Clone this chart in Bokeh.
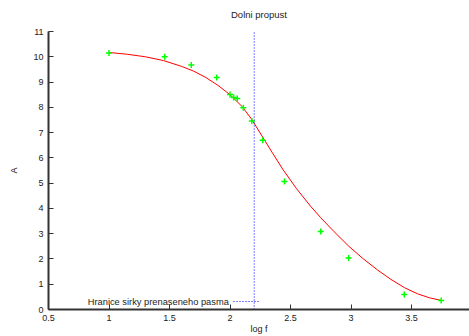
from bokeh.plotting import figure
from bokeh.models import Range1d, FixedTicker, Label, Legend, LegendItem, Title
from bokeh.embed import file_html
from bokeh.resources import INLINE

# measured points (log f, A)
x_pts = [1.00, 1.46, 1.68, 1.89, 2.00, 2.03, 2.06, 2.11, 2.18, 2.27, 2.45, 2.75, 2.98, 3.44, 3.745]
y_pts = [10.15, 10.00, 9.67, 9.18, 8.51, 8.39, 8.35, 7.98, 7.46, 6.70, 5.06, 3.09, 2.04, 0.59, 0.36]

# fitted curve
curve_x = [1.00, 1.15, 1.30, 1.45, 1.60, 1.70, 1.80, 1.90, 2.00, 2.10, 2.18, 2.27, 2.35, 2.44,
           2.55, 2.665, 2.75, 2.86, 2.98, 3.10, 3.217, 3.33, 3.443, 3.55, 3.65, 3.745]
curve_y = [10.17, 10.10, 10.00, 9.85, 9.62, 9.43, 9.18, 8.87, 8.50, 8.03, 7.52, 6.82, 6.20, 5.52,
           4.78, 4.09, 3.63, 3.08, 2.51, 2.01, 1.57, 1.19, 0.86, 0.62, 0.46, 0.36]

# band edge
x_cut = 2.2

x_ticks = [0.5, 1.0, 1.5, 2.0, 2.5, 3.0, 3.5]
x_tick_labels = ["0.5", "1", "1.5", "2", "2.5", "3", "3.5"]
y_ticks = [0, 1, 2, 3, 4, 5, 6, 7, 8, 9, 10, 11]
y_tick_labels = [str(v) for v in y_ticks]

FONT = "Liberation Sans"
TXT = "#222222"

p = figure(width=469, height=336,
           x_range=Range1d(0.5, 3.979), y_range=Range1d(0, 11),
           output_backend="svg", toolbar_location=None,
           min_border_left=48, min_border_right=0,
           min_border_top=31, min_border_bottom=26,
           title="Dolni propust")
p.outline_line_color = None
p.grid.visible = False
p.background_fill_color = "white"
p.border_fill_color = "white"

p.title.text_font = FONT
p.title.text_font_size = "9.5px"
p.title.text_font_style = "normal"
p.title.text_color = TXT
p.title.align = "center"

# empty spacer between the title and the frame
p.add_layout(Title(text=" ", text_font_size="4px", standoff=0), "above")

for ax in (p.xaxis[0], p.yaxis[0]):
    ax.axis_line_color = "#333333"
    ax.axis_line_width = 2
    ax.major_tick_line_color = "#333333"
    ax.major_tick_in = 5
    ax.major_tick_out = 0
    ax.minor_tick_line_color = None
    ax.major_label_text_font = FONT
    ax.major_label_text_font_size = "9px"
    ax.major_label_text_color = TXT
    ax.axis_label_text_font = FONT
    ax.axis_label_text_font_size = "9px"
    ax.axis_label_text_font_style = "normal"
    ax.axis_label_text_color = TXT

p.xaxis.ticker = FixedTicker(ticks=x_ticks)
p.xaxis.major_label_overrides = {t: l for t, l in zip(x_ticks, x_tick_labels)}
p.xaxis.axis_label = "log f"
p.xaxis.major_label_standoff = 5
p.xaxis.axis_label_standoff = 0

p.yaxis.ticker = FixedTicker(ticks=y_ticks)
p.yaxis.major_label_overrides = {t: l for t, l in zip(y_ticks, y_tick_labels)}
p.yaxis.axis_label = "A"
p.yaxis.major_label_standoff = 5
p.yaxis.axis_label_standoff = 11

p.line(curve_x, curve_y, line_color="#ff0000", line_width=1)
p.scatter(x_pts, y_pts, marker="cross", size=6, line_color="#00ff00", line_width=1.5)

vline = p.line([x_cut, x_cut], [y_ticks[0], y_ticks[-1]], line_color="#0000ff",
               line_width=1, line_dash="1 2")

legend = Legend(items=[LegendItem(label=" ", renderers=[vline])],
                location=(185, 3), glyph_width=26, glyph_height=10,
                label_width=0, label_standoff=0, padding=0, margin=0, spacing=0,
                background_fill_alpha=0, border_line_color=None,
                label_text_font_size="1px")
p.add_layout(legend, "center")

p.add_layout(Label(x=1.99, y=0.29, text="Hranice sirky prenaseneho pasma",
                   text_align="right", text_baseline="middle",
                   text_font=FONT, text_font_size="9.3px", text_color=TXT))

open("out.html", "w").write(file_html(p, INLINE))
